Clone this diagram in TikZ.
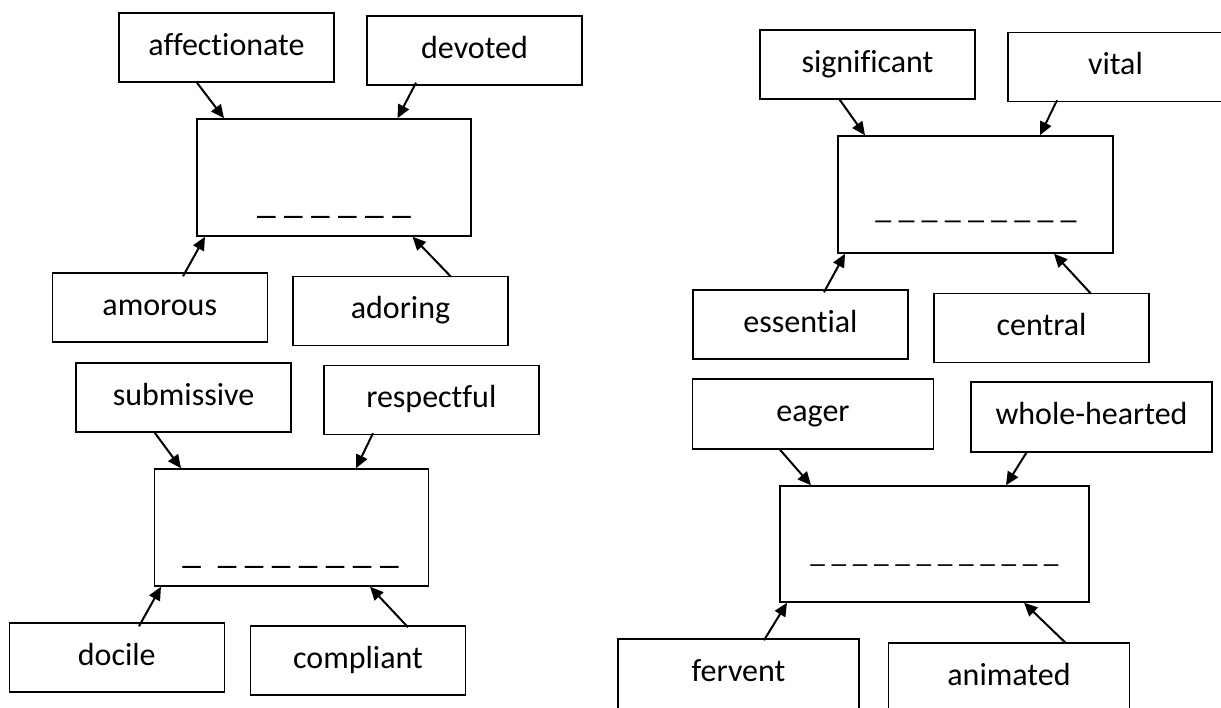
\documentclass[tikz,border=0pt]{standalone}
\usepackage{fontspec}
\setmainfont{Carlito}[Ligatures={NoCommon,NoContextual}]
\usetikzlibrary{calc,arrows.meta}
\tikzset{
  wordbox/.style={draw=black, line width=1.1pt, fill=white, inner sep=0pt,
    minimum width=161.25pt, minimum height=51.75pt,
    text height=14pt, text depth=2.75pt, font=\fontsize{24}{28}\selectfont},
  widebox/.style={wordbox, minimum width=180.75pt, minimum height=52.5pt},
  hubbox/.style={draw=black, line width=1.1pt, fill=white, inner sep=0pt,
    minimum width=205.5pt, minimum height=87.75pt},
  blank/.style={inner sep=0pt, anchor=base},
  link/.style={line width=1.5pt, -{Triangle[length=10pt,width=9pt]}}
}
\begin{document}
\begin{tikzpicture}[x=0.75pt, y=-0.75pt]
\useasboundingbox (0,0) rectangle (1221,707);
\fill[white] (0,0) rectangle (1221,707);

% ---------- left upper group ----------
\node[wordbox] (aff) at (226.5,47.5) {affectionate};
\node[wordbox] (dev) at (474.5,50.5) {devoted};
\node[hubbox]  (h1)  at (334,177.5) {};
\node[blank, font=\fontsize{28}{30}\selectfont] (b1) at (334,213.3)
  {\_\ \_\ \_\ \_\ \_\ \_};
\node[wordbox] (amo) at (159.75,307.5) {amorous};
\node[wordbox] (ado) at (400.5,311) {adoring};

\draw[link] ($(aff.south)+(-29.5,0)$) -- ($(h1.north)+(-110,0)$);
\draw[link] ($(dev.south)+(-58.5,-3)$) -- ($(h1.north)+(63.5,0)$);
\draw[link] ($(amo.north)+(23.25,4)$) -- ($(h1.south)+(-129,0)$);
\draw[link] ($(ado.north)+(50.5,1)$) -- ($(h1.south)+(78.5,0)$);

% ---------- left lower group ----------
\node[wordbox] (sub) at (183.5,397.5) {submissive};
\node[wordbox] (res) at (431.3,400) {respectful};
\node[hubbox]  (h2)  at (291.3,527.5) {};
\node[blank, font=\fontsize{28}{30}\selectfont] (b2) at (290.5,563.3)
  {\_\ \ \_\ \_\ \_\ \_\ \_\ \_\ \_};
\node[wordbox] (doc) at (116.8,657.5) {docile};
\node[wordbox] (com) at (358,660.5) {compliant};

\draw[link] ($(sub.south)+(-29.5,-1)$) -- ($(h2.north)+(-110.3,0)$);
\draw[link] ($(res.south)+(-58.3,-2)$) -- ($(h2.north)+(64.7,0)$);
\draw[link] ($(doc.north)+(22.2,4)$) -- ($(h2.south)+(-130.3,0)$);
\draw[link] ($(com.north)+(50,2)$) -- ($(h2.south)+(78.7,0)$);

% ---------- right upper group ----------
\node[wordbox] (sig) at (867.5,64.5) {significant};
\node[wordbox] (vit) at (1115.5,67) {vital};
\node[hubbox, minimum width=206.25pt] (h3) at (975.5,194.5) {};
\node[blank, font=\fontsize{24}{28}\selectfont] (b3) at (976,218.8)
  {\_\ \_\ \_\ \_\ \_\ \_\ \_\ \_\ \_};
\node[wordbox] (ess) at (800.5,324.5) {essential};
\node[wordbox] (cen) at (1041.5,328) {central};

\draw[link] ($(sig.south)+(-28.5,-1)$) -- ($(h3.north)+(-110.5,0)$);
\draw[link] ($(vit.south)+(-58.5,-2)$) -- ($(h3.north)+(64.5,0)$);
\draw[link] ($(ess.north)+(23.5,3)$) -- ($(h3.south)+(-130.5,0)$);
\draw[link] ($(cen.north)+(49.5,1)$) -- ($(h3.south)+(78.5,0)$);

% ---------- right lower group ----------
\node[widebox] (eag) at (813,414) {eager};
\node[widebox] (who) at (1091.5,417) {whole-hearted};
\node[hubbox, minimum width=231.75pt, minimum height=87pt] (h4) at (934.5,544) {};
\node[blank, font=\fontsize{22}{26}\selectfont] (b4) at (934.5,562.1)
  {\_\ \_\ \_\ \_\ \_\ \_\ \_\ \_\ \_\ \_\ \_\ \_};
\node[widebox] (fer) at (738.5,674) {fervent};
\node[widebox] (ani) at (1009,678) {animated};

\draw[link] ($(eag.south)+(-33,0)$) -- ($(h4.north)+(-123.5,0)$);
\draw[link] ($(who.south)+(-64.5,-1)$) -- ($(h4.north)+(71.5,0)$);
\draw[link] ($(fer.north)+(25.5,2)$) -- ($(h4.south)+(-147.5,0)$);
\draw[link] ($(ani.north)+(57,1)$) -- ($(h4.south)+(89.5,0)$);
\end{tikzpicture}
\end{document}
